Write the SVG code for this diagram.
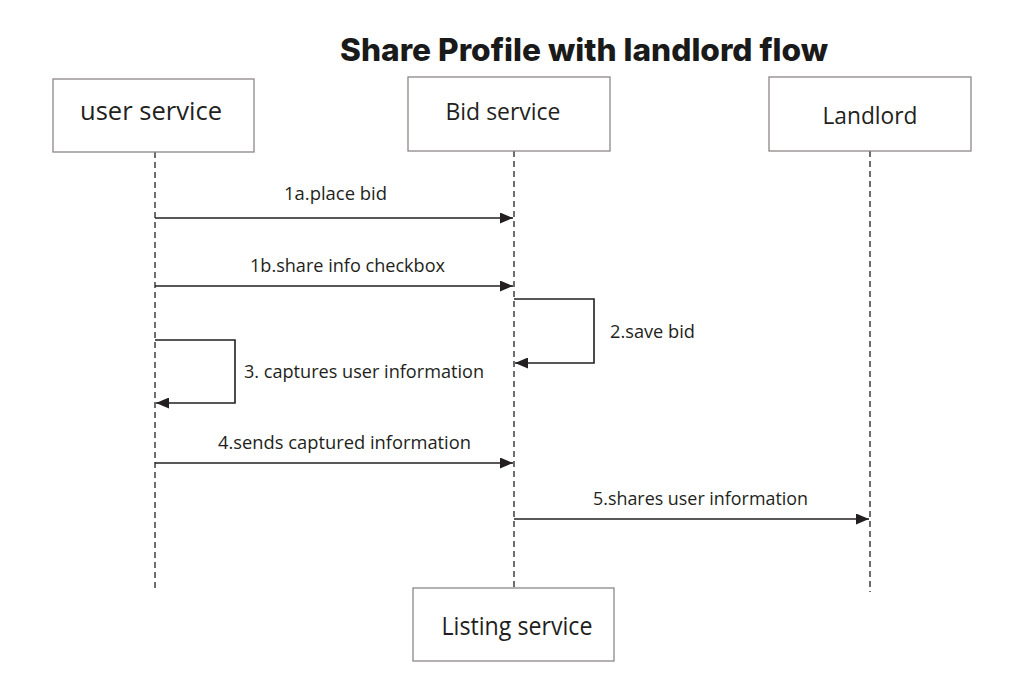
<svg xmlns="http://www.w3.org/2000/svg" width="1017" height="700" viewBox="0 0 1017 700">
<defs>
<marker id="ah" viewBox="0 0 13 11" refX="13" refY="5.5" markerWidth="13" markerHeight="11" markerUnits="userSpaceOnUse" orient="auto">
<path d="M0,0 L13,5.5 L0,11 Z" fill="#231f20"/>
</marker>
<style>
.box{fill:#fff;stroke:#8c8786;stroke-width:1.3}
.life{stroke:#231f20;stroke-width:1.3;stroke-dasharray:6,4;fill:none}
.msg{stroke:#231f20;stroke-width:1.6;fill:none;marker-end:url(#ah)}
.nl{font-family:"Open Sans","Liberation Sans",sans-serif;fill:#231f20}
.ml{font-family:"Open Sans","Liberation Sans",sans-serif;fill:#231f20;font-size:18px}
.title{font-family:Inter,"Liberation Sans",sans-serif;font-weight:800;font-size:31px;fill:#1a1a1a}
</style>
</defs>
<rect width="1017" height="700" fill="#fff"/>
<text class="title" x="584" y="61" text-anchor="middle" textLength="488" lengthAdjust="spacingAndGlyphs">Share Profile with landlord flow</text>
<g id="lifelines">
<line class="life" x1="155" y1="152" x2="155" y2="592"/>
<line class="life" x1="514" y1="151" x2="514" y2="588"/>
<line class="life" x1="870" y1="151" x2="870" y2="592"/>
</g>
<g id="user-service">
<rect class="box" x="53" y="79" width="201" height="73"/>
<text class="nl" x="151" y="120" font-size="26" text-anchor="middle" textLength="142" lengthAdjust="spacingAndGlyphs">user service</text>
</g>
<g id="bid-service">
<rect class="box" x="408" y="77" width="202" height="74"/>
<text class="nl" x="503" y="120" font-size="24" text-anchor="middle" textLength="115" lengthAdjust="spacingAndGlyphs">Bid service</text>
</g>
<g id="landlord">
<rect class="box" x="769" y="77" width="202" height="74"/>
<text class="nl" x="870" y="124" font-size="24" text-anchor="middle" textLength="95" lengthAdjust="spacingAndGlyphs">Landlord</text>
</g>
<g id="listing-service">
<rect class="box" x="413" y="588" width="201" height="73"/>
<text class="nl" x="517" y="635" font-size="25" text-anchor="middle" textLength="151" lengthAdjust="spacingAndGlyphs">Listing service</text>
</g>
<g id="connectors">
<line class="msg" x1="155" y1="218" x2="513" y2="218"/>
<text class="ml" x="284" y="200" textLength="103" lengthAdjust="spacingAndGlyphs">1a.place bid</text>
<line class="msg" x1="155" y1="286" x2="513" y2="286"/>
<text class="ml" x="250" y="272" textLength="195" lengthAdjust="spacingAndGlyphs">1b.share info checkbox</text>
<polyline class="msg" points="514,299 594,299 594,363 515,363"/>
<text class="ml" x="610" y="338" textLength="85" lengthAdjust="spacingAndGlyphs">2.save bid</text>
<polyline class="msg" points="155,340 235,340 235,403 156,403"/>
<text class="ml" x="244" y="378" textLength="240" lengthAdjust="spacingAndGlyphs">3. captures user information</text>
<line class="msg" x1="155" y1="463" x2="513" y2="463"/>
<text class="ml" x="218" y="449" textLength="253" lengthAdjust="spacingAndGlyphs">4.sends captured information</text>
<line class="msg" x1="514" y1="519" x2="869" y2="519"/>
<text class="ml" x="593" y="505" textLength="215" lengthAdjust="spacingAndGlyphs">5.shares user information</text>
</g>
</svg>
